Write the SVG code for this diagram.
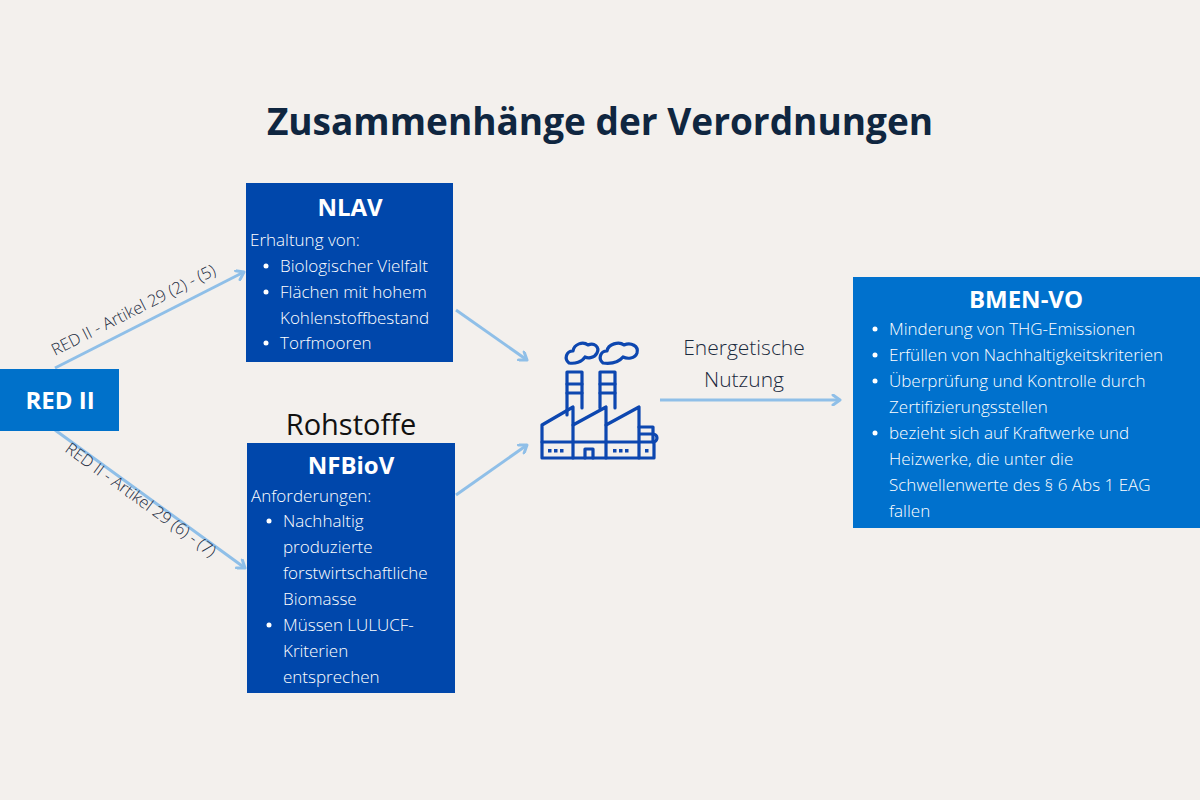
<svg xmlns="http://www.w3.org/2000/svg" width="1200" height="800" viewBox="0 0 1200 800">
<defs>
<marker id="ah" markerWidth="12" markerHeight="12" refX="9" refY="6" orient="auto" markerUnits="userSpaceOnUse"><path d="M2,1 L9,6 L2,11" fill="none" stroke="#8fbfe8" stroke-width="3" stroke-linecap="round" stroke-linejoin="round"/></marker>
</defs>
<style>
text{font-family:"Open Sans","Liberation Sans",sans-serif}
.t{fill:#fff;font-size:17px;font-weight:300}
.h{fill:#fff;font-size:24px;font-weight:700}
.c{stroke:#8fbfe8;stroke-width:3;fill:none;marker-end:url(#ah)}
.lab{fill:#1b2a3d;font-size:16.5px;font-weight:300}
.ic{fill:none;stroke:#0d47b0;stroke-width:3.2;stroke-linejoin:round;stroke-linecap:round}
</style>
<rect width="1200" height="800" fill="#f3f0ed"/>
<text x="600" y="135" text-anchor="middle" font-size="37" font-weight="700" fill="#0f2640">Zusammenhänge der Verordnungen</text>
<g id="connectors">
<line class="c" x1="55" y1="368" x2="244" y2="272"/>
<line class="c" x1="55" y1="430" x2="245" y2="568"/>
<line class="c" x1="456" y1="310" x2="527" y2="360"/>
<line class="c" x1="456" y1="495" x2="527" y2="445"/>
<line class="c" x1="660" y1="400" x2="840" y2="400"/>
<text class="lab" transform="translate(55,356) rotate(-26.8)">RED II - Artikel 29 (2) - (5)</text>
<text class="lab" transform="translate(64,451) rotate(36)">RED II - Artikel 29 (6) - (7)</text>
<text x="744" y="355" text-anchor="middle" font-size="21" font-weight="300" fill="#1b2a3d">Energetische</text>
<text x="744" y="387" text-anchor="middle" font-size="21" font-weight="300" fill="#1b2a3d">Nutzung</text>
</g>
<g id="red2">
<rect x="0" y="369" width="119" height="62" fill="#0071ca"/>
<text x="60" y="409" text-anchor="middle" class="h" font-size="23">RED II</text>
</g>
<g id="nlav">
<rect x="246" y="183" width="207" height="179" fill="#0047ab"/>
<text x="350" y="216" text-anchor="middle" class="h">NLAV</text>
<text class="t" x="250" y="246">Erhaltung von:</text>
<g class="t"><circle cx="266" cy="266" r="2.5" fill="#fff"/><text class="t" x="280" y="272">Biologischer Vielfalt</text>
<circle cx="266" cy="292" r="2.5" fill="#fff"/><text class="t" x="280" y="298">Flächen mit hohem</text>
<text class="t" x="280" y="324">Kohlenstoffbestand</text>
<circle cx="266" cy="343" r="2.5" fill="#fff"/><text class="t" x="280" y="349">Torfmooren</text></g>
</g>
<g id="rohstoffe"><text x="351" y="435" text-anchor="middle" font-size="29" fill="#111">Rohstoffe</text></g>
<g id="nfbiov">
<rect x="247" y="443" width="208" height="250" fill="#0047ab"/>
<text x="351" y="474" text-anchor="middle" class="h">NFBioV</text>
<text class="t" x="251" y="502">Anforderungen:</text>
<circle cx="269" cy="521" r="2.5" fill="#fff"/>
<text class="t" x="283" y="527">Nachhaltig</text>
<text class="t" x="283" y="553">produzierte</text>
<text class="t" x="283" y="579">forstwirtschaftliche</text>
<text class="t" x="283" y="605">Biomasse</text>
<circle cx="269" cy="625" r="2.5" fill="#fff"/>
<text class="t" x="283" y="631">Müssen LULUCF-</text>
<text class="t" x="283" y="657">Kriterien</text>
<text class="t" x="283" y="683">entsprechen</text>
</g>
<g id="factory" class="ic">
<path d="M542,442 L542,425 L573,407 L573,425 L606,407 L606,425 L639,407 L639,427 L653,427 L653,442"/>
<path d="M542,442 L654,442 M542,458 L654,458 M542,442 L542,458 M654,442 L654,458 M653,434 a4,4 0 0 1 0,8"/>
<path d="M573,425 L573,458 M606,425 L606,458 M639,427 L639,458 M639,434 L653,434"/>
<path d="M585,458 L585,449 L593,449 L593,458"/>
<path d="M567,415 L567,372 L582,372 L582,408 M600,408 L600,372 L615,372 L615,408"/>
<path d="M567,384 L582,384 M567,393 L582,393 M600,384 L615,384 M600,393 L615,393"/>
<path d="M569,363 c-5,-4 -3,-12 4,-12 c1,-7 10,-10 15,-6 c6,-3 12,2 9,8 c-3,6 -10,5 -12,4 c-3,5 -10,7 -16,6 z"/>
<path d="M603,363 c-5,-4 -3,-12 4,-12 c1,-7 12,-10 17,-6 c7,-3 15,1 13,8 c-2,6 -10,6 -14,4 c-4,5 -12,7 -20,6 z"/>
<g fill="#0d47b0" stroke="none"><rect x="548" y="449" width="3.5" height="3.5"/><rect x="554" y="449" width="3.5" height="3.5"/><rect x="560" y="449" width="3.5" height="3.5"/><rect x="613" y="449" width="3.5" height="3.5"/><rect x="619" y="449" width="3.5" height="3.5"/><rect x="625" y="449" width="3.5" height="3.5"/><rect x="645" y="449" width="3.5" height="3.5"/></g>
</g>
<g id="bmen">
<rect x="853" y="277" width="347" height="251" fill="#0071cd"/>
<text x="1026" y="308" text-anchor="middle" class="h">BMEN-VO</text>
<g fill="#fff"><circle cx="875" cy="329" r="2.5"/><circle cx="875" cy="355" r="2.5"/><circle cx="875" cy="381" r="2.5"/><circle cx="875" cy="433" r="2.5"/></g>
<text class="t" x="889" y="335">Minderung von THG-Emissionen</text>
<text class="t" x="889" y="361">Erfüllen von Nachhaltigkeitskriterien</text>
<text class="t" x="889" y="387">Überprüfung und Kontrolle durch</text>
<text class="t" x="889" y="413">Zertifizierungsstellen</text>
<text class="t" x="889" y="439">bezieht sich auf Kraftwerke und</text>
<text class="t" x="889" y="465">Heizwerke, die unter die</text>
<text class="t" x="889" y="491">Schwellenwerte des § 6 Abs 1 EAG</text>
<text class="t" x="889" y="517">fallen</text>
</g>
</svg>
